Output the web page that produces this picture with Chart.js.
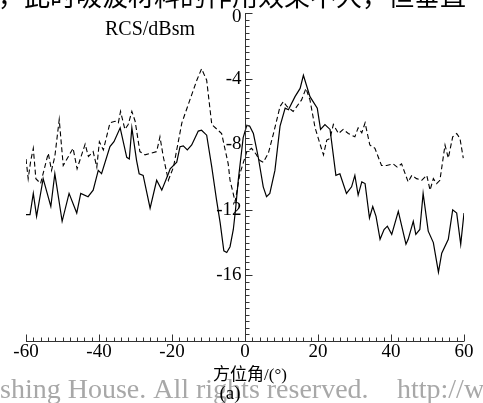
<!DOCTYPE html>
<html>
<head>
<meta charset="utf-8">
<script src="https://cdn.jsdelivr.net/npm/chart.js@4"></script>
<style>
  html, body { margin: 0; padding: 0; background: #fff; }
  canvas { display: block; }
</style>
</head>
<body>
<canvas id="rcsChart" width="483" height="403"></canvas>
<script>
// Azimuth (deg) and RCS (dBsm)
const solidAngles = [-60, -58.9, -58, -57.1, -55.3, -53.2, -52.1, -50.1, -48.2, -46.1, -45, -43, -41.6, -40.2, -39.3,
    -37, -35.9, -34.2, -32.4, -31.7, -31, -29.7, -29, -27.9, -26, -24.2, -22.8, -21, -20.5, -18.7, -17.8, -16.9,
    -15.8, -14.6, -12.8, -11.9, -10.5, -9.1, -7.8, -6.8, -5.8, -5.0, -4.1, -3.2, -2.6, -1.8, -0.5, 0.5, 1.3, 2.3,
    3.6, 5.0, 5.9, 6.8, 8.2, 9.6, 11.0, 11.9, 13.7, 15.1, 16.0, 17.8, 19.8, 20.7, 21.9, 23.3, 24.9, 26, 27.8, 29.2,
    30.1, 31, 32, 32.9, 34.1, 35, 35.9, 37, 38.1, 39, 40.2, 42, 44.1, 44.7, 46.1, 46.8, 47.9, 48.8, 50.2, 51.6, 53,
    53.9, 55.7, 56.9, 58, 59.1, 60];
const solidRcs = [-12.3, -12.3, -11.0, -12.4, -10.1, -11.8, -9.8, -12.7, -11.0, -12.2, -11.0, -11.2, -10.8, -9.6, -9.8,
    -8.15, -7.85, -7.0, -8.8, -8.9, -7.0, -9.0, -9.8, -9.9, -11.9, -10.2, -10.8, -9.8, -9.5, -9.1, -8.15, -8.1,
    -8.35, -8.05, -7.2, -7.15, -7.45, -9.4, -11.4, -12.8, -14.5, -14.6, -14.25, -13.2, -12.0, -10.1, -7.6, -6.85, -6.9, -7.35,
    -8.75, -10.6, -11.2, -11.0, -9.6, -6.9, -5.8, -5.9, -5.1, -4.6, -3.8, -5.1, -5.8, -7.1, -6.8, -7.1, -9.9, -9.8, -11.0, -10.6,
    -9.9, -11.1, -10.3, -10.4, -12.5, -11.8, -12.4, -13.8, -13.2, -13.0, -13.5, -12.1, -14.1, -13.8, -12.7, -13.5, -13.2, -11.0, -13.3, -14.0, -15.8,
    -14.65, -13.8, -12.0, -12.2, -14.1, -12.2];

const dashedAngles = [-60, -59.4, -58.7, -58, -57.3, -56, -53.9, -53, -52.1, -50.9, -49.8, -47.1, -46, -43.8, -42.9,
    -41.6, -40.6, -39.9, -38.8, -37, -35.6, -34.7, -34.1, -32.9, -32, -31, -30.1, -28.8, -27.4, -24.2, -23.3, -22.4,
    -21, -19.6, -17.3, -15.1, -13.2, -11.9, -10.5, -9.1, -6.4, -4.6, -4.1, -2.7, -1.4, 0.5, 1.8, 3.0, 4.1, 5.0, 6.4,
    7.8, 9.6, 10.5, 11.5, 13.2, 15.5, 16.7, 17.8, 19.2, 20.5, 21.5, 22.4, 23.3, 24.2, 25.6, 26.9, 28.3, 30.1, 31, 32,
    32.9, 34.2, 35.6, 37.4, 38.8, 40.6, 41.7, 42.9, 44.7, 45.7, 47, 48.4, 49.8, 50.7, 51.6, 52.5, 53.4, 54.8, 55.7,
    56.9, 58, 58.9, 59.8];
const dashedRcs = [-8.9, -10.1, -9.0, -8.25, -10.1, -10.4, -8.55, -9.6, -8.75, -6.5, -9.3, -8.25, -9.5, -8.0, -8.75,
    -8.45, -9.4, -7.85, -8.35, -6.7, -6.6, -6.7, -6.0, -7.1, -6.8, -6.0, -6.6, -8.45, -8.65, -8.45, -7.55, -8.75,
    -10.2, -9.4, -6.7, -5.3, -4.1, -3.4, -4.1, -6.8, -7.35, -9.2, -10.2, -11.5, -9.8, -8.45, -8.25, -8.6, -9.0, -9.1, -8.55,
    -7.35, -5.7, -5.4, -5.7, -6.0, -5.3, -4.6, -5.3, -7.0, -7.95, -8.65, -7.75, -7.65, -6.8, -7.35, -7.1, -7.35, -7.55, -7.0, -7.3,
    -6.7, -8.05, -8.25, -9.3, -9.3, -9.2, -9.4, -9.2, -10.3, -9.9, -10.1, -10.2, -9.9, -10.8, -10.1, -10.4, -10.2, -8.05, -8.85,
    -7.55, -7.35, -7.65, -8.85];

// Axis ticks
const xTickLabels = [-60, -40, -20, 0, 20, 40, 60];
const yTickLabels = [0, -4, -8, -12, -16];
const xMinorStep = 2;
const yMinorStep = 0.4;

function toPoints(xs, ys) {
    return xs.map((x, i) => ({ x: x, y: ys[i] }));
}

// Draws the centred y axis, the bottom x axis, inward ticks and all the page text
const axisPlugin = {
    id: 'axisPlugin',
    afterDraw(chart) {
        const ctx = chart.ctx;
        const xs = chart.scales.x;
        const ys = chart.scales.y;
        const x0 = Math.round(xs.getPixelForValue(0)) + 0.5;
        const yTop = ys.getPixelForValue(0);
        const yBot = Math.round(ys.getPixelForValue(-20)) + 0.5;
        const xLeft = xs.getPixelForValue(-60);
        const xRight = xs.getPixelForValue(60);

        ctx.save();
        ctx.strokeStyle = '#333';
        ctx.lineWidth = 1;

        // axis lines
        ctx.beginPath();
        ctx.moveTo(x0, yTop);
        ctx.lineTo(x0, yBot);
        ctx.moveTo(xLeft, yBot);
        ctx.lineTo(xRight, yBot);
        ctx.stroke();

        // y ticks, pointing right
        ctx.beginPath();
        for (let v = 0; v >= -20.001; v -= yMinorStep) {
            const y = Math.round(ys.getPixelForValue(v)) + 0.5;
            const major = Math.abs(v / 4 - Math.round(v / 4)) < 0.01;
            ctx.moveTo(x0, y);
            ctx.lineTo(x0 + (major ? 7 : 4), y);
        }
        // x ticks, pointing up
        for (let a = -60; a <= 60; a += xMinorStep) {
            const x = Math.round(xs.getPixelForValue(a)) + 0.5;
            const major = a % 20 === 0;
            ctx.moveTo(x, yBot);
            ctx.lineTo(x, yBot - (major ? 7 : 4));
        }
        ctx.stroke();

        // tick labels
        ctx.fillStyle = '#000';
        ctx.font = '19px "Liberation Serif", "DejaVu Serif", serif';
        ctx.textAlign = 'right';
        ctx.textBaseline = 'middle';
        yTickLabels.forEach(v => {
            let y = ys.getPixelForValue(v);
            if (v === 0) y += 4;
            ctx.fillText(String(v), x0 - 4, y);
        });
        ctx.textAlign = 'center';
        ctx.textBaseline = 'alphabetic';
        xTickLabels.forEach(a => {
            ctx.fillText(String(a), xs.getPixelForValue(a), 357);
        });

        // y axis title
        ctx.textAlign = 'left';
        ctx.font = '20px "Liberation Serif", "DejaVu Serif", serif';
        ctx.fillText('RCS/dBsm', 105, 35);

        // cropped body text line at top of the scan
        ctx.font = '26px "Noto Sans CJK SC", sans-serif';
        ctx.fillText('，此时吸波材料的作用效果不大，但垂直', -2, 6);

        // watermark
        ctx.fillStyle = '#a8a8a8';
        ctx.font = '28px "Liberation Serif", "DejaVu Serif", serif';
        ctx.fillText('shing House. All rights reserved.', 0, 398);
        ctx.fillText('http://w', 397, 398);

        // x axis title and panel label
        ctx.fillStyle = '#000';
        ctx.font = '17px "Liberation Serif", "Noto Sans CJK SC", serif';
        ctx.fillText('方位角/(°)', 213, 380);
        ctx.textAlign = 'center';
        ctx.font = '19px "Liberation Serif", "DejaVu Serif", serif';
        ctx.fillText('(a)', 230, 399);
        ctx.restore();
    }
};

const ctx = document.getElementById('rcsChart').getContext('2d');
const chart = new Chart(ctx, {
    type: 'line',
    data: {
        datasets: [
            {
                label: 'solid',
                data: toPoints(solidAngles, solidRcs),
                borderColor: '#000',
                borderWidth: 1.2,
                pointRadius: 0,
                tension: 0,
                fill: false
            },
            {
                label: 'dashed',
                data: toPoints(dashedAngles, dashedRcs),
                borderColor: '#000',
                borderWidth: 1.1,
                borderDash: [5, 3],
                pointRadius: 0,
                tension: 0,
                fill: false
            }
        ]
    },
    options: {
        responsive: false,
        animation: false,
        layout: {
            padding: { left: 26, right: 19, top: 13, bottom: 62 }
        },
        scales: {
            x: { type: 'linear', min: -60, max: 60, display: false },
            y: { type: 'linear', min: -20, max: 0, display: false }
        },
        plugins: {
            legend: { display: false },
            tooltip: { enabled: false }
        }
    },
    plugins: [axisPlugin]
});
</script>
</body>
</html>
